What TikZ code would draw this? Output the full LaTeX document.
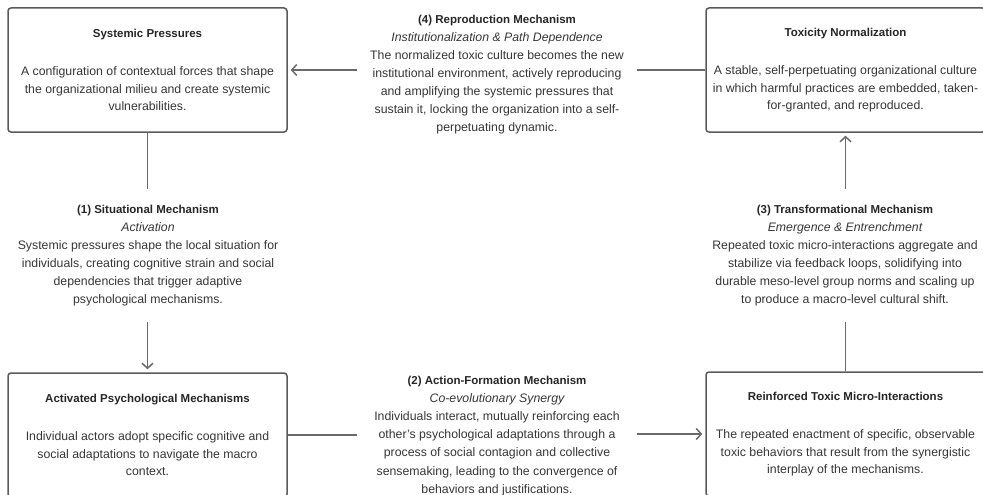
\documentclass[tikz,border=0pt]{standalone}
\usepackage{fontspec}
\setmainfont{Liberation Sans}
\usetikzlibrary{arrows.meta}
\definecolor{boxline}{HTML}{5A5A5A}
\definecolor{bodytext}{HTML}{363636}
\definecolor{titletext}{HTML}{262626}
\definecolor{connc}{HTML}{6A6A6A}
\newcommand{\ttl}{\fontsize{11.5}{17.5}\selectfont\bfseries\color{titletext}}
\newcommand{\sub}{\itshape}
\begin{document}
\begin{tikzpicture}[x=1pt,y=-1pt,
  box/.style={draw=boxline, line width=1.5pt, rounded corners=3pt,
    minimum width=279pt, minimum height=124pt, inner sep=0pt,
    align=center, text=bodytext, font=\fontsize{12.3}{17.5}\selectfont},
  lab/.style={align=center, minimum width=280pt, inner xsep=0pt, inner ysep=16pt,
    text=bodytext, font=\fontsize{12.3}{18.1}\selectfont},
  conn/.style={draw=connc, line width=1.5pt},
  arr/.style={conn, shorten >=3pt, -{Straight Barb[length=5pt,width=11pt,line width=1.5pt]}}]
\useasboundingbox (0,0) rectangle (983,495);

\node[box] (SP) at (147.5,70) {{\ttl Systemic Pressures}\\[21pt]
A configuration of contextual forces that shape\\
the organizational milieu and create systemic\\
vulnerabilities.};

\node[box] (TN) at (845.5,70) {{\ttl Toxicity Normalization}\\[21pt]
A stable, self-perpetuating organizational culture\\
in which harmful practices are embedded, taken-\\
for-granted, and reproduced.};

\node[box] (AP) at (147.5,435) {{\ttl Activated Psychological Mechanisms}\\[21pt]
Individual actors adopt specific cognitive and\\
social adaptations to navigate the macro\\
context.};

\node[box] (RT) at (845.5,434) {{\ttl Reinforced Toxic Micro-Interactions}\\[21pt]
The repeated enactment of specific, observable\\
toxic behaviors that result from the synergistic\\
interplay of the mechanisms.};

\node[lab] (L4) at (497,74.5) {{\ttl (4) Reproduction Mechanism}\\
{\sub Institutionalization \& Path Dependence}\\
The normalized toxic culture becomes the new\\
institutional environment, actively reproducing\\
and amplifying the systemic pressures that\\
sustain it, locking the organization into a self-\\
perpetuating dynamic.};

\node[lab] (L1) at (148,255.5) {{\ttl (1) Situational Mechanism}\\
{\sub Activation}\\
Systemic pressures shape the local situation for\\
individuals, creating cognitive strain and social\\
dependencies that trigger adaptive\\
psychological mechanisms.};

\node[lab] (L3) at (845,255.5) {{\ttl (3) Transformational Mechanism}\\
{\sub Emergence \& Entrenchment}\\
Repeated toxic micro-interactions aggregate and\\
stabilize via feedback loops, solidifying into\\
durable meso-level group norms and scaling up\\
to produce a macro-level cultural shift.};

\node[lab] (L2) at (497,436) {{\ttl (2) Action-Formation Mechanism}\\
{\sub Co-evolutionary Synergy}\\
Individuals interact, mutually reinforcing each\\
other's psychological adaptations through a\\
process of social contagion and collective\\
sensemaking, leading to the convergence of\\
behaviors and justifications.};

\draw[arr] (L4.west |- SP.east) -- (SP.east);
\draw[conn] (TN.west) -- (TN.west -| L4.east);
\draw[conn] (SP.south) -- (SP.south |- L1.north);
\draw[arr] (L1.south -| AP.north) -- (AP.north);
\draw[conn] (AP.east) -- (AP.east -| L2.west);
\draw[arr] (L2.east |- RT.west) -- (RT.west);
\draw[conn] (RT.north) -- (RT.north |- L3.south);
\draw[arr] (L3.north -| TN.south) -- (TN.south);
\end{tikzpicture}
\end{document}
